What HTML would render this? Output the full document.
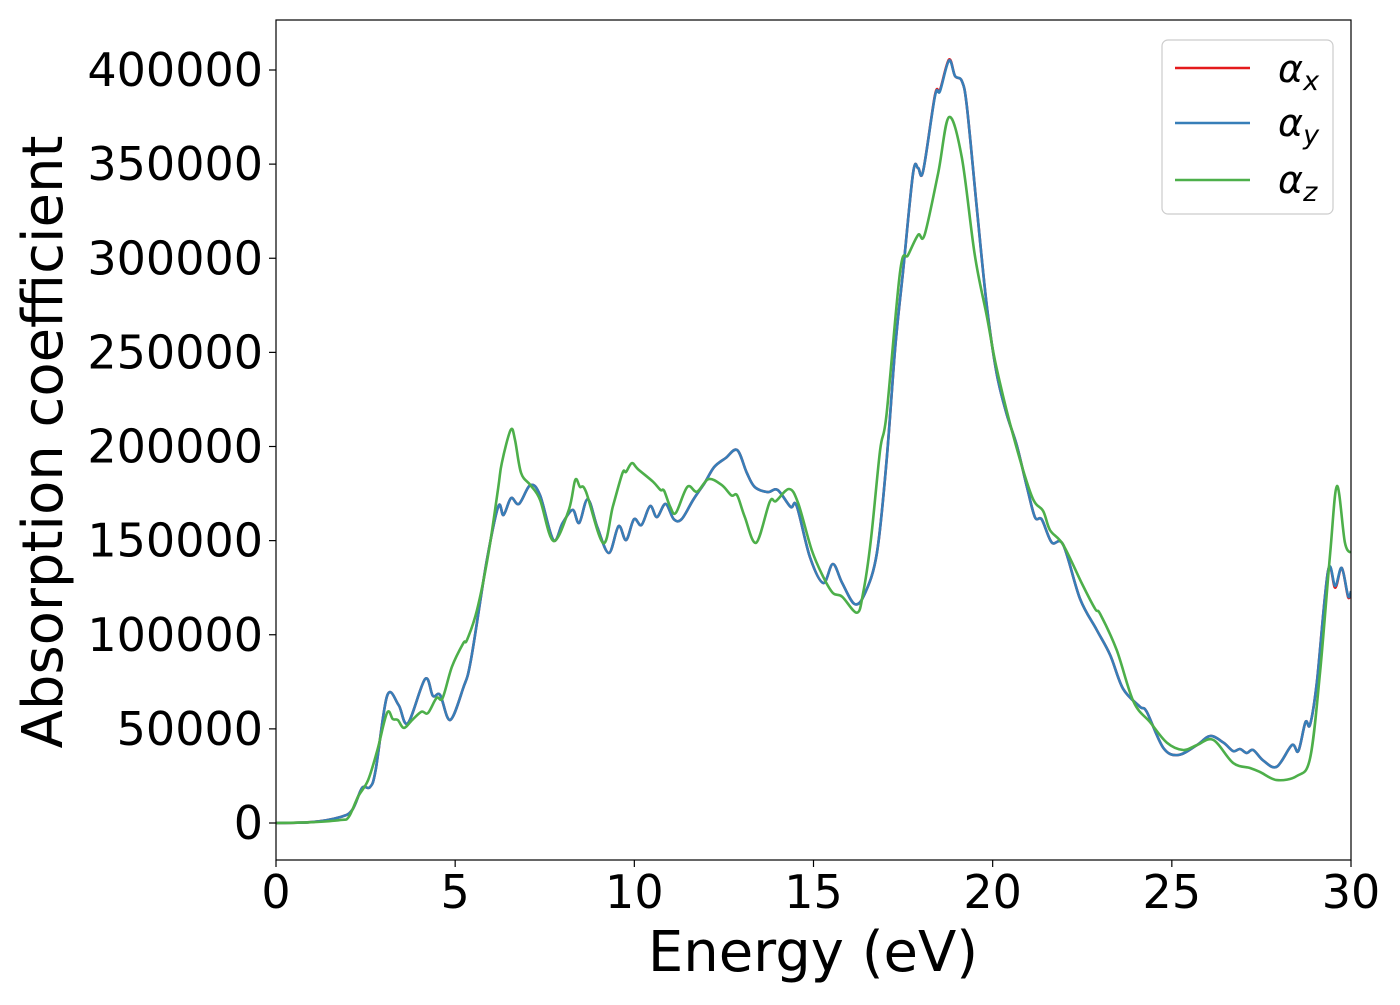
<!DOCTYPE html>
<html><head><meta charset="utf-8"><style>
body{margin:0;background:#fff}
svg text{font-family:"DejaVu Sans","Liberation Sans",sans-serif;fill:#000}
</style></head><body>
<svg id="chart" width="1400" height="1000" viewBox="0 0 1400 1000" xmlns="http://www.w3.org/2000/svg">
<rect width="1400" height="1000" fill="#fff"/>
<g id="lines"></g>
<rect x="276" y="20" width="1075" height="840" fill="none" stroke="#000" stroke-width="1.2"/>
<g id="axes"></g>
<text x="813" y="971" font-size="56" text-anchor="middle">Energy (eV)</text>
<text transform="translate(62,442) rotate(-90)" font-size="56" text-anchor="middle">Absorption coefficient</text>
<g>
<rect x="1162" y="40" width="171" height="174" rx="6" fill="#fff" fill-opacity="0.8" stroke="#ccc" stroke-width="1.2"/>
<line x1="1175" y1="68" x2="1250" y2="68" stroke="#e41a1c" stroke-width="2.5"/>
<line x1="1175" y1="123" x2="1250" y2="123" stroke="#377eb8" stroke-width="2.5"/>
<line x1="1175" y1="180" x2="1250" y2="180" stroke="#4daf4a" stroke-width="2.5"/>
<text x="1278" y="82" font-size="38" font-style="italic">α<tspan font-size="27" dy="8">x</tspan></text>
<text x="1278" y="136" font-size="38" font-style="italic">α<tspan font-size="27" dy="8">y</tspan></text>
<text x="1278" y="193" font-size="38" font-style="italic">α<tspan font-size="27" dy="8">z</tspan></text>
</g>
</svg>
<script>
const energyXY = [0,1,1.8,2.13,2.4,2.62,2.78,3.1,3.42,3.68,4.16,4.38,4.58,4.86,5.23,5.44,5.87,6.2,6.35,6.56,6.78,7.1,7.37,7.74,8.0,8.28,8.46,8.7,8.97,9.29,9.56,9.77,9.99,10.2,10.44,10.63,10.87,11.1,11.32,11.64,11.96,12.23,12.55,12.87,13.14,13.36,13.72,14.0,14.36,14.53,14.9,15.27,15.54,15.8,16.15,16.44,16.77,17.04,17.28,17.5,17.78,17.92,18.06,18.39,18.53,18.78,18.95,19.14,19.28,19.56,19.84,20.11,20.39,20.67,20.95,21.18,21.37,21.65,21.97,22.44,22.9,23.28,23.64,24.11,24.3,24.76,25.18,25.7,26.07,26.44,26.71,26.9,27.09,27.27,27.55,27.93,28.35,28.53,28.73,28.86,29.05,29.36,29.56,29.74,29.92,30];
const alphaY = [0,500,3200,7000,18600,19000,28000,67500,62700,53000,76500,67500,68000,54700,72000,86600,138000,168000,163600,172600,169500,179500,174000,150300,159400,166300,159400,172000,157000,143400,157700,150300,161400,158300,168400,162500,169500,161400,161400,171600,180600,189100,193900,198100,185900,178500,175800,176900,167900,168400,141300,127500,137600,127500,116300,122200,143400,192600,252500,293300,345300,347900,346300,386200,388800,405000,396800,394100,380500,326200,274300,239000,217300,200800,179000,162500,161200,149000,147700,119000,102700,89200,71300,61800,59000,40000,36100,41400,46200,42700,38200,39300,37200,38800,33200,29900,41400,38200,53600,52300,75400,134000,125900,135500,120600,123000];
const alphaX = [0,500,3200,7000,18600,19000,28000,67500,62700,53000,76500,67500,68000,54700,72000,86600,138000,168000,163600,172600,169500,179500,174000,150300,159400,166300,159400,172000,157000,143400,157700,150300,161400,158300,168400,162500,169500,161400,161400,171600,180600,189100,193900,198100,185900,178500,175800,176900,167900,168400,141300,127500,137600,127500,116300,122200,143400,192600,252500,293300,345300,347900,346300,386700,389300,405500,396800,394100,380500,326200,274300,239000,217300,200800,179000,162500,161200,149000,147700,119000,102700,89200,71300,61800,59000,40000,36100,41400,46200,42700,38200,39300,37200,38800,33200,29900,41400,38200,53600,52300,75400,134000,125000,135500,120000,123000];
const energyZ = [0,1,1.8,2.03,2.29,2.57,2.83,3.1,3.26,3.4,3.57,3.8,4.06,4.24,4.48,4.65,4.91,5.23,5.33,5.61,5.93,6.2,6.3,6.55,6.67,6.84,7.1,7.37,7.74,8.17,8.35,8.48,8.65,9.13,9.4,9.67,9.77,9.93,10.1,10.52,10.73,10.83,11.0,11.16,11.48,11.75,12.07,12.44,12.71,12.87,13.08,13.4,13.78,13.95,14.32,14.57,14.95,15.27,15.54,15.8,16.21,16.38,16.6,16.86,17.04,17.42,17.64,17.92,18.1,18.48,18.78,19.14,19.5,19.84,20.11,20.57,21.09,21.41,21.6,21.97,22.49,22.86,23.0,23.46,23.93,24.39,24.86,25.32,25.7,26.16,26.71,27.18,27.46,27.93,28.49,28.86,29.14,29.42,29.61,29.83,30];
const alphaZ = [0,400,1600,3200,14000,22800,38800,58600,55200,54700,50500,54700,59100,58400,66400,66400,83000,95600,97200,113100,143400,178000,191200,208800,203500,185900,179500,171600,149800,166300,182200,178600,176000,148700,168000,185900,186500,191200,188000,181300,176900,176500,168000,164800,178600,176000,182700,179500,174000,174000,162700,148900,170700,171000,177400,170000,145000,130800,122200,120200,111700,121600,150000,198100,217300,293300,301700,312400,312400,345300,375000,353300,301700,269000,241600,206100,173700,165700,155600,147700,127200,113700,111000,91900,64500,53600,42700,38800,41400,44100,31900,29200,27100,22800,25000,34500,80800,143500,179000,149000,143500];
const xTicks = [0,5,10,15,20,25,30];
const yTicks = [0,50000,100000,150000,200000,250000,300000,350000,400000];

const X0=276,X1=1351,XMIN=0,XMAX=30;
const Y0=823,YPX=753/400000;
function sx(v){return X0+(v-XMIN)/(XMAX-XMIN)*(X1-X0);}
function sy(v){return Y0-v*YPX;}
const NS="http://www.w3.org/2000/svg";
function pathFor(xs,ys){
  const p=xs.map((x,i)=>[sx(x),sy(ys[i])]);
  let d="M"+p[0][0].toFixed(1)+","+p[0][1].toFixed(1);
  for(let i=0;i<p.length-1;i++){
    const a=p[Math.max(i-1,0)],b=p[i],c=p[i+1],e=p[Math.min(i+2,p.length-1)];
    const c1x=b[0]+(c[0]-a[0])/6,c1y=b[1]+(c[1]-a[1])/6,c2x=c[0]-(e[0]-b[0])/6,c2y=c[1]-(e[1]-b[1])/6;
    d+=" C"+c1x.toFixed(1)+","+c1y.toFixed(1)+" "+c2x.toFixed(1)+","+c2y.toFixed(1)+" "+c[0].toFixed(1)+","+c[1].toFixed(1);
  }
  return d;
}
const lines=document.getElementById('lines');
const cp=document.createElementNS(NS,'clipPath');cp.setAttribute('id','clip');
const cr=document.createElementNS(NS,'rect');cr.setAttribute('x',276);cr.setAttribute('y',20);cr.setAttribute('width',1075);cr.setAttribute('height',840);
cp.appendChild(cr);lines.appendChild(cp);
lines.setAttribute('clip-path','url(#clip)');
[[energyXY,alphaX,'#e41a1c','series-alpha-x'],[energyXY,alphaY,'#377eb8','series-alpha-y'],[energyZ,alphaZ,'#4daf4a','series-alpha-z']].forEach(s=>{
  const el=document.createElementNS(NS,'path');
  el.setAttribute('d',pathFor(s[0],s[1]));
  el.setAttribute('fill','none');el.setAttribute('stroke',s[2]);el.setAttribute('stroke-width','2.6');
  el.setAttribute('stroke-linejoin','round');
  
  
  lines.appendChild(el);
});
const axes=document.getElementById('axes');
xTicks.forEach(t=>{
  const x=sx(t);
  const l=document.createElementNS(NS,'line');
  l.setAttribute('x1',x);l.setAttribute('x2',x);l.setAttribute('y1',860);l.setAttribute('y2',867);l.setAttribute('stroke','#000');l.setAttribute('stroke-width','1.2');
  
  
  axes.appendChild(l);
  const tx=document.createElementNS(NS,'text');
  tx.setAttribute('x',x);tx.setAttribute('y',908);tx.setAttribute('font-size','46');tx.setAttribute('text-anchor','middle');
  tx.textContent=t;
  
  
  axes.appendChild(tx);
});
yTicks.forEach(t=>{
  const y=sy(t);
  const l=document.createElementNS(NS,'line');
  l.setAttribute('x1',269);l.setAttribute('x2',276);l.setAttribute('y1',y);l.setAttribute('y2',y);l.setAttribute('stroke','#000');l.setAttribute('stroke-width','1.2');
  
  
  axes.appendChild(l);
  const tx=document.createElementNS(NS,'text');
  tx.setAttribute('x',263);tx.setAttribute('y',y+16);tx.setAttribute('font-size','46');tx.setAttribute('text-anchor','end');
  tx.textContent=t;
  
  
  axes.appendChild(tx);
});
</script>
</body></html>
